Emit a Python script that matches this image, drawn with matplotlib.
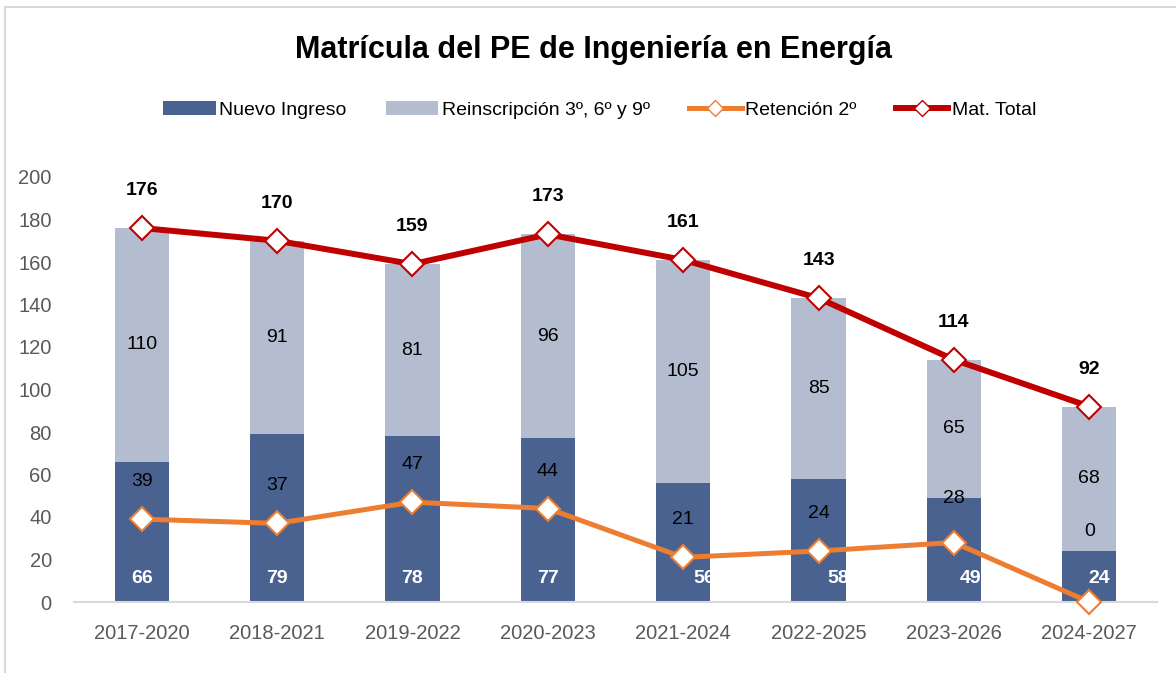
import matplotlib
matplotlib.use("Agg")
import matplotlib.pyplot as plt
from matplotlib.patches import Patch
from matplotlib.lines import Line2D
import numpy as np

plt.rcParams['font.family'] = ['Liberation Sans', 'DejaVu Sans']

# datos
periodos = ["2017-2020", "2018-2021", "2019-2022", "2020-2023",
            "2021-2024", "2022-2025", "2023-2026", "2024-2027"]
nuevo_ingreso = [66, 79, 78, 77, 56, 58, 49, 24]
reinscripcion = [110, 91, 81, 96, 105, 85, 65, 68]
retencion = [39, 37, 47, 44, 21, 24, 28, 0]
mat_total = [176, 170, 159, 173, 161, 143, 114, 92]

c_nuevo = '#4A6290'
c_reins = '#B4BCCF'
c_ret = '#ED7D31'
c_total = '#C00000'

fig = plt.figure(figsize=(11.76, 6.73), dpi=100)
ax = fig.add_axes([74/1176, 1-602/673, (1157-74)/1176, (602-177)/673])

x = np.arange(len(periodos))
ancho = 0.40
ax.bar(x, nuevo_ingreso, ancho, color=c_nuevo, zorder=2)
ax.bar(x, reinscripcion, ancho, bottom=nuevo_ingreso, color=c_reins, zorder=2)

ax.plot(x, retencion, color=c_ret, lw=3.6, marker='D', ms=12.5, mfc='white',
        mec=c_ret, mew=1.5, zorder=4, clip_on=False)
ax.plot(x, mat_total, color=c_total, lw=4.3, marker='D', ms=12.5, mfc='white',
        mec=c_total, mew=1.5, zorder=5, clip_on=False)

# etiquetas
fs = 14
dx_nuevo = [0, 0, 0, 0, 15, 14, 12, 7]   # desplazamiento (pt) de etiquetas blancas
dy_ret = [27, 27, 27, 27, 27, 27, 32, 51]  # desplazamiento (pt) sobre el marcador
for i in range(len(periodos)):
    ax.annotate(str(nuevo_ingreso[i]), (x[i], 0), xytext=(dx_nuevo[i], 17),
                textcoords='offset points', ha='center', va='center',
                color='white', fontsize=fs, fontweight='bold', zorder=6)
    ax.text(x[i], nuevo_ingreso[i] + reinscripcion[i] / 2, str(reinscripcion[i]),
            ha='center', va='center', fontsize=fs, color='black', zorder=6)
    ax.annotate(str(retencion[i]), (x[i], retencion[i]), xytext=(0, dy_ret[i]),
                textcoords='offset points', ha='center', va='center',
                fontsize=fs, color='black', zorder=6)
    ax.annotate(str(mat_total[i]), (x[i], mat_total[i]), xytext=(0, 27),
                textcoords='offset points', ha='center', va='center',
                fontsize=fs, fontweight='bold', color='black', zorder=6)

ax.set_xlim(-0.5, len(periodos) - 0.5)
ax.set_ylim(0, 200)
ax.set_yticks(range(0, 201, 20))
ax.set_xticks(x)
ax.set_xticklabels(periodos)
ax.tick_params(axis='both', length=0, labelsize=14.5, labelcolor='#595959')
ax.tick_params(axis='y', pad=16)
ax.tick_params(axis='x', pad=16)
for s in ['top', 'right', 'left']:
    ax.spines[s].set_visible(False)
ax.spines['bottom'].set_color('#D9D9D9')
ax.spines['bottom'].set_linewidth(1.5)

fig.text(0.505, 0.926, "Matrícula del PE de Ingeniería en Energía", ha='center',
         va='center', fontsize=22, fontweight='bold')

handles = [
    Patch(facecolor=c_nuevo, label='Nuevo Ingreso'),
    Patch(facecolor=c_reins, label='Reinscripción 3º, 6º y 9º'),
    Line2D([], [], color=c_ret, lw=3.6, marker='D', ms=8, mfc='white', mec=c_ret,
           label='Retención 2º'),
    Line2D([], [], color=c_total, lw=4.3, marker='D', ms=8, mfc='white', mec=c_total,
           label='Mat. Total'),
]
fig.legend(handles=handles, loc='center', bbox_to_anchor=(0.51, 0.837), ncol=4,
           frameon=False, fontsize=14, handlelength=2.7, handleheight=0.8,
           handletextpad=0.2, columnspacing=2.0)

# borde del gráfico
fig.add_artist(Line2D([5/1176, 5/1176], [0, 1-7/673], color='#D9D9D9', lw=1.5))
fig.add_artist(Line2D([5/1176, 1], [1-7/673, 1-7/673], color='#D9D9D9', lw=1.5))

fig.savefig('out.png', dpi=100)
